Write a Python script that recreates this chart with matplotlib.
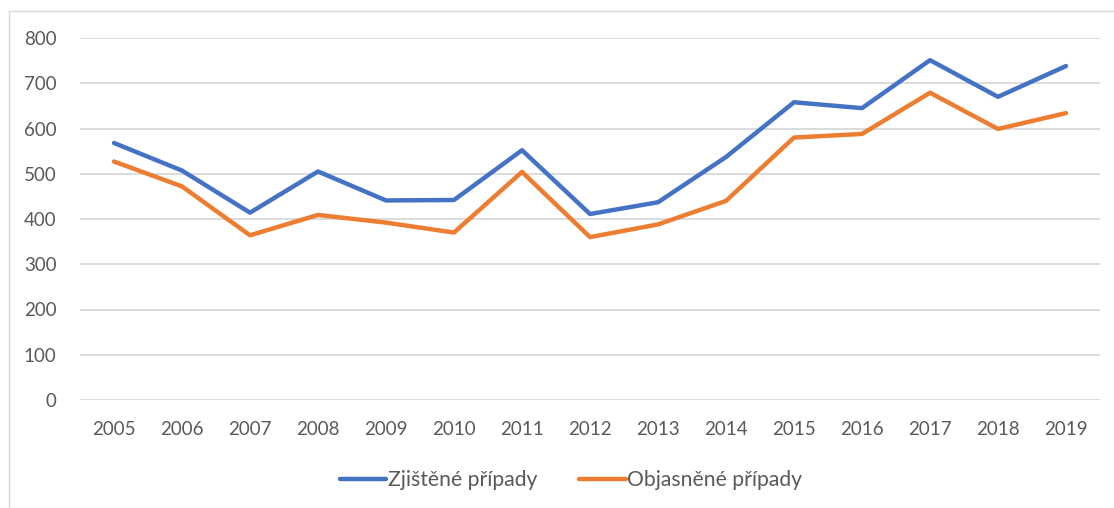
import matplotlib
matplotlib.use("Agg")
import matplotlib.pyplot as plt
from matplotlib.lines import Line2D

years = [str(y) for y in range(2005, 2020)]
zjistene = [568, 507, 414, 505, 441, 442, 552, 411, 437, 537, 658, 645, 751, 670, 738]
objasnene = [527, 472, 364, 409, 392, 370, 504, 360, 388, 440, 580, 588, 679, 599, 634]

plt.rcParams["font.family"] = ["Lato", "DejaVu Sans"]
text_col = "#595959"

fig = plt.figure(figsize=(11.14, 5.08), dpi=100)
ax = fig.add_axes([80 / 1114, 1 - 400 / 508, 1020 / 1114, 362 / 508])

x = range(len(years))
ax.plot(x, zjistene, color="#4472C4", lw=3.2, solid_capstyle="round", label="Zjištěné případy")
ax.plot(x, objasnene, color="#ED7D31", lw=3.2, solid_capstyle="round", label="Objasněné případy")

ax.set_xlim(-0.5, len(years) - 0.5)
ax.set_ylim(0, 800)
ax.set_yticks(range(0, 801, 100))
ax.set_xticks(list(x))
ax.set_xticklabels(years)
ax.grid(axis="y", color="#D9D9D9", lw=1.3)
ax.set_axisbelow(True)
for s in ax.spines.values():
    s.set_visible(False)
ax.tick_params(length=0, labelsize=13.5, colors=text_col)
ax.tick_params(axis="y", pad=17)
ax.tick_params(axis="x", pad=15)

fig.legend(loc="center", bbox_to_anchor=(571 / 1114, 1 - 480 / 508), ncol=2, frameon=False,
           fontsize=15.2, labelcolor=text_col, handlelength=2.2, handletextpad=0.08, columnspacing=2.0)

# chart border (cropped on right and bottom)
fig.add_artist(Line2D([9 / 1114, 9 / 1114], [0, 1 - 11 / 508], transform=fig.transFigure, color="#D9D9D9", lw=1))
fig.add_artist(Line2D([9 / 1114, 1], [1 - 11 / 508, 1 - 11 / 508], transform=fig.transFigure, color="#D9D9D9", lw=1))

fig.savefig("out.png", dpi=100)
